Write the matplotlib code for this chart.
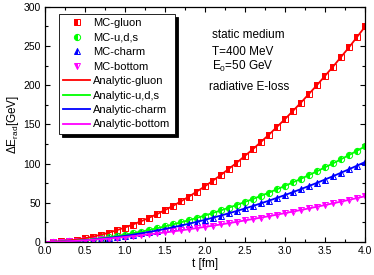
import numpy as np
import matplotlib
matplotlib.use("Agg")
import matplotlib.pyplot as plt
from matplotlib.ticker import MultipleLocator

plt.rcParams['font.family'] = ['Liberation Sans', 'DejaVu Sans']
plt.rcParams['mathtext.fontset'] = 'custom'
plt.rcParams['mathtext.rm'] = 'Liberation Sans'
plt.rcParams['mathtext.it'] = 'Liberation Sans'

# MC points, t = 0.1 ... 4.0 fm
t_mc = np.round(np.arange(1, 41) * 0.1, 1)
mc_gluon = [0.2, 0.8, 1.8, 3.1, 4.8, 6.8, 9.2, 11.9, 15.0, 18.4,
            22.2, 26.3, 30.7, 35.5, 40.6, 46.0, 51.8, 57.9, 64.3, 71.1,
            78.2, 85.6, 93.3, 101.4, 109.8, 118.5, 127.7, 137.0, 146.7, 156.8,
            167.1, 177.9, 188.8, 200.2, 211.7, 223.7, 236.0, 248.4, 261.4, 275.5]
mc_uds = [0.1, 0.5, 1.0, 1.7, 2.6, 3.7, 4.9, 6.2, 7.7, 9.4,
          11.2, 13.1, 15.2, 17.5, 19.9, 22.4, 25.1, 27.8, 30.8, 33.8,
          37.0, 40.4, 43.8, 47.4, 51.1, 54.9, 58.9, 63.0, 67.2, 71.6,
          76.1, 80.7, 85.4, 90.2, 95.3, 100.3, 105.6, 110.9, 116.3, 122.0]
mc_charm = [0.1, 0.4, 0.9, 1.4, 2.2, 3.1, 4.1, 5.2, 6.5, 7.9,
            9.4, 11.0, 12.8, 14.6, 16.6, 18.7, 21.0, 23.3, 25.7, 28.3,
            31.0, 33.8, 36.7, 39.7, 42.8, 46.0, 49.3, 52.8, 56.3, 59.9,
            63.7, 67.5, 71.5, 75.5, 79.7, 83.9, 88.4, 92.9, 97.3, 102.0]
mc_bottom = [0.2, 0.5, 0.9, 1.5, 2.1, 2.8, 3.6, 4.4, 5.4, 6.4,
             7.4, 8.5, 9.7, 10.9, 12.2, 13.5, 14.8, 16.3, 17.7, 19.3,
             20.8, 22.4, 24.1, 25.8, 27.5, 29.3, 31.1, 33.0, 34.9, 36.8,
             38.8, 40.8, 42.9, 45.0, 47.1, 49.3, 51.5, 53.8, 56.0, 58.4]

# analytic curves, t = 0.0 ... 4.0 fm in 0.2 steps
t_an = np.round(np.arange(0, 21) * 0.2, 1)
an_gluon = [0.0, 0.8, 3.1, 6.8, 11.9, 18.4, 26.3, 35.5, 46.0, 57.9, 71.1,
            85.6, 101.4, 118.5, 137.0, 156.8, 177.9, 200.2, 223.7, 248.4, 274.7]
an_uds = [0.0, 0.48, 1.72, 3.65, 6.21, 9.38, 13.14, 17.48, 22.38, 27.84, 33.81,
          40.36, 47.39, 54.91, 63.02, 71.59, 80.68, 90.22, 100.29, 110.93, 121.9]
an_charm = [0.0, 0.40, 1.44, 3.05, 5.20, 7.85, 11.00, 14.63, 18.73, 23.30, 28.30,
            33.78, 39.67, 45.96, 52.75, 59.92, 67.53, 75.51, 83.94, 92.85, 102.0]
an_bottom = [0.0, 0.48, 1.47, 2.80, 4.44, 6.35, 8.50, 10.88, 13.47, 16.26, 19.25,
             22.42, 25.77, 29.29, 32.98, 36.83, 40.84, 45.00, 49.30, 53.76, 58.36]

fig = plt.figure(figsize=(3.74, 2.75), dpi=100)
ax = fig.add_axes([0.120, 0.12, 0.856, 0.855])

ms = 4.5
mew = 0.7
ax.plot(t_mc, mc_gluon, 's', color='#ff0000', fillstyle='left', ms=ms, mew=mew, label='MC-gluon')
ax.plot(t_mc, mc_uds, 'o', color='#00ff00', fillstyle='left', ms=ms, mew=mew, label='MC-u,d,s')
ax.plot(t_mc, mc_charm, '^', color='#0000ff', fillstyle='left', ms=ms, mew=mew, label='MC-charm')
ax.plot(t_mc, mc_bottom, 'v', color='#ff00ff', fillstyle='left', ms=ms, mew=mew, label='MC-bottom')
ax.plot(t_an, an_gluon, '-', color='#ff0000', lw=1.3, label='Analytic-gluon')
ax.plot(t_an, an_uds, '-', color='#00ff00', lw=1.3, label='Analytic-u,d,s')
ax.plot(t_an, an_charm, '-', color='#0000ff', lw=1.3, label='Analytic-charm')
ax.plot(t_an, an_bottom, '-', color='#ff00ff', lw=1.3, label='Analytic-bottom')

ax.set_xlim(0, 4)
ax.set_ylim(0, 300)
ax.xaxis.set_major_locator(MultipleLocator(0.5))
ax.xaxis.set_minor_locator(MultipleLocator(0.25))
ax.yaxis.set_major_locator(MultipleLocator(50))
ax.yaxis.set_minor_locator(MultipleLocator(25))
ax.tick_params(which='both', direction='in', top=True, right=True, labelsize=7.5, width=0.8)
ax.tick_params(which='major', length=3.5, pad=3)
ax.tick_params(which='minor', length=2)
for s in ax.spines.values():
    s.set_linewidth(0.9)

ax.set_xlabel('t [fm]', fontsize=8.5, labelpad=1)
ax.set_ylabel(r'$\Delta$E$_{rad}$[GeV]', fontsize=8.5, labelpad=2)

leg = ax.legend(loc='upper left', bbox_to_anchor=(0.044, 0.97), fontsize=8,
                frameon=True, fancybox=False, edgecolor='black', framealpha=1,
                shadow={'color': 'black', 'alpha': 1}, handlelength=2.4,
                labelspacing=0.4, borderpad=0.4, handletextpad=0.3, borderaxespad=0)
leg.get_frame().set_linewidth(0.6)

ax.text(0.522, 0.881, 'static medium', transform=ax.transAxes, fontsize=8.5, va='center')
ax.text(0.522, 0.809, 'T=400 MeV', transform=ax.transAxes, fontsize=8.5, va='center')
ax.text(0.522, 0.745, r'E$_0$=50 GeV', transform=ax.transAxes, fontsize=8.5, va='center')
ax.text(0.512, 0.660, 'radiative E-loss', transform=ax.transAxes, fontsize=8.5, va='center')

fig.savefig('out.png', dpi=100)
